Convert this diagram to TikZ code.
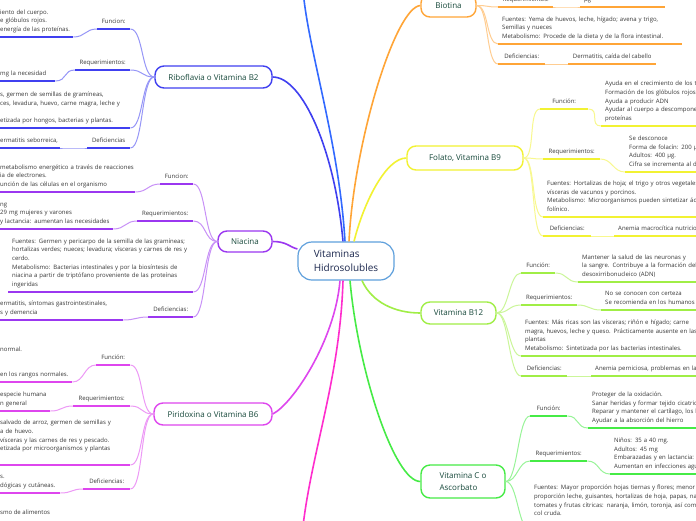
\documentclass[tikz,border=0pt]{standalone}
\usepackage{fontspec}
\setmainfont{Open Sans}
\usepackage{tikz}
\usepackage{xcolor}
\usetikzlibrary{calc}
\definecolor{ink}{RGB}{55,55,55}
\definecolor{topicink}{RGB}{22,72,58}
\definecolor{rootink}{RGB}{28,40,78}
\definecolor{rootc}{RGB}{95,160,220}
\definecolor{ribc}{RGB}{64,64,240}
\definecolor{topc}{RGB}{50,105,255}
\definecolor{niac}{RGB}{155,55,240}
\definecolor{pirc}{RGB}{222,70,238}
\definecolor{magc}{RGB}{255,45,205}
\definecolor{bioc}{RGB}{255,165,55}
\definecolor{folc}{RGB}{242,242,50}
\definecolor{b12c}{RGB}{160,238,70}
\definecolor{vicc}{RGB}{70,235,70}
\tikzset{
  root/.style={draw=rootc,line width=1.2pt,rounded corners=14pt,fill=white,text=rootink,font=\fontsize{10}{14}\selectfont,align=left,minimum width=96pt,minimum height=38pt},
  topic/.style={draw=#1,line width=1.4pt,rounded corners=9pt,fill=white,text=topicink,font=\fontsize{8}{12}\selectfont,align=left,minimum height=22pt},
  stem/.style={line width=1.6pt,draw=#1},
  leaf/.style={anchor=south west,align=left,text=ink,font=\fontsize{6}{8.6}\selectfont,inner xsep=4pt,inner ysep=3pt,execute at end node=\strut},
  cut/.style={leaf,inner xsep=0pt},
  uline/.style={line width=2.4pt,draw=#1},
  link/.style={line width=1pt,draw=#1!55}
}
\begin{document}
\begin{tikzpicture}[x=1pt,y=-1pt]
  \fill[white,use as bounding box] (0,0) rectangle (696,520);
  \clip (0,0) rectangle (696,520);

  \node[root] (root) at (346,261) {Vitaminas\\Hidrosolubles};
  \node[topic=ribc,minimum width=117pt] (rib) at (213.5,77) {Riboflavia o Vitamina B2};
  \node[topic=niac,minimum width=54pt,minimum height=21pt] (nia) at (245,241.5) {Niacina};
  \node[topic=pirc,minimum width=118pt] (pir) at (213,414) {Piridoxina o Vitamina B6};
  \node[topic=bioc,minimum width=55pt,minimum height=23pt] (bio) at (448.5,5.5) {Biotina};
  \node[topic=folc,minimum width=116pt,minimum height=24pt] (fol) at (465,158) {Folato, Vitamina B9};
  \node[topic=b12c,minimum width=75pt] (b12) at (458.5,313) {Vitamina B12};
  \node[topic=vicc,minimum width=84pt,minimum height=33pt] (vic) at (463,481.5) {Vitamina C o\\Ascorbato};
  \coordinate (topend) at (303,-10);
  \coordinate (botend) at (302,535);

  \draw[stem=ribc] ([xshift=-3pt]root.north) .. controls +(-8,-90) and +(30,0) .. (rib.east);
  \draw[stem=topc] ([xshift=-1pt]root.north) .. controls +(-6,-100) and +(5,60) .. (topend);
  \draw[stem=bioc] ([xshift=3pt]root.north) .. controls +(5,-100) and +(-25,2) .. (bio.west);
  \draw[stem=folc] ([xshift=8pt]root.north) .. controls +(10,-40) and +(-20,0) .. (fol.west);
  \draw[stem=niac] (nia.east) .. controls +(14,0) and +(-8,-2) .. ([yshift=12pt]root.west);
  \draw[stem=b12c] ([xshift=16pt]root.south) .. controls +(10,22) and +(-25,0) .. (b12.west);
  \draw[stem=pirc] ([xshift=-6pt]root.south) .. controls +(-5,60) and +(20,-10) .. (pir.east);
  \draw[stem=magc] ([xshift=-3pt]root.south) .. controls +(-3,100) and +(8,-80) .. (botend);
  \draw[stem=vicc] ([xshift=4pt]root.south) .. controls +(8,90) and +(-26,0) .. (vic.west);

  \node[leaf,minimum width=33pt] (ribfun) at (97,29) {Funcion:};
  \node[cut,text width=73pt] (ribfunt) at (0,37) {
    iento del cuerpo.\\e glóbulos rojos.\\energía de las proteínas.
  };
  \node[leaf,minimum width=55pt] (ribreq) at (75,70) {Requerimientos:};
  \node[cut,text width=55pt] (ribreqt) at (0,81) {mg la necesidad};
  \node[cut,text width=130pt] (ribsrc) at (0,128) {
    s, germen de semillas de gramíneas,\\ces, levadura, huevo, carne magra, leche y\\[8.6pt]etizada por hongos, bacterias y plantas.
  };
  \node[leaf,minimum width=43pt] (ribdef) at (87,148) {Deficiencias};
  \node[cut,text width=60pt] (ribdeft) at (0,148) {ermatitis seborreica,};

  \node[leaf,minimum width=33pt] (niafun) at (160,184) {Funcion:};
  \node[cut,text width=135pt] (niafunt) at (0,192) {
    metabolismo energético a través de reacciones\\ia de electrones.\\unción de las células en el organismo
  };
  \node[leaf,minimum width=56pt] (niareq) at (137,221) {Requerimientos:};
  \node[cut,text width=113pt] (niareqt) at (0,229) {
    ng\\ 29 mg mujeres y varones\\y lactancia: aumentan las necesidades
  };
  \node[leaf,text width=177pt] (niasrc) at (8,292) {
    Fuentes: Germen y pericarpo de la semilla de las gramíneas;\\hortalizas verdes; nueces; levadura; vísceras y carnes de res y\\cerdo.\\Metabolismo: Bacterias intestinales y por la biosíntesis de\\niacina a partir de triptófano proveniente de las proteínas\\ingeridas
  };
  \node[leaf,minimum width=45pt] (niadef) at (148,317) {Deficiencias:};
  \node[cut,text width=123pt] (niadeft) at (0,320) {
    ermatitis, síntomas gastrointestinales,\\s y demencia
  };

  \node[leaf,minimum width=34pt] (pirfun) at (96,365) {Función:};
  \node[cut,text width=72pt] (pirfunt) at (0,382) {
    normal.\\[16.4pt]en los rangos normales.
  };
  \node[leaf,minimum width=57pt] (pirreq) at (73,406) {Requerimientos:};
  \node[cut,text width=50pt] (pirreqt) at (0,411) {
    especie humana\\n general
  };
  \node[cut,text width=130pt] (pirsrc) at (0,465) {
    salvado de arroz, germen de semillas y\\a de huevo.\\vísceras y las carnes de res y pescado.\\etizada por microorganismos y plantas\\\mbox{}
  };
  \node[leaf,minimum width=47pt] (pirdef) at (83,489) {Deficiencias:};
  \node[cut,text width=60pt] (pirdeft) at (0,493) {
    s.\\dógicas y cutáneas.
  };
  \node[cut,anchor=base west] (pirmore) at (0,514) {smo de alimentos};

  \node[leaf,minimum width=55pt] (bioreq) at (498,7) {Requerimientos:};
  \node[leaf,text width=77pt] (bioreqt) at (580,7) {Rango normal: 100 a 300 µg};
  \node[leaf,text width=176pt] (biosrc) at (498,44) {
    Fuentes:  Yema de huevos, leche, hígado; avena y trigo,\\Semillas y nueces\\Metabolismo: Procede de la dieta y de la flora intestinal.
  };
  \node[leaf,minimum width=47pt] (biodef) at (498,64) {Deficiencias:};
  \node[leaf,minimum width=88pt] (biodeft) at (568,64) {Dermatitis, caída del cabello};

  \node[leaf,minimum width=48pt] (folfun) at (540,109) {Función:};
  \node[leaf,text width=130pt] (folfunt) at (601,126) {
    Ayuda en el crecimiento de los t\\Formación de los glóbulos rojos\\Ayuda a producir ADN\\Ayudar al cuerpo a descomponer\\proteínas
  };
  \node[leaf,minimum width=57pt] (folreq) at (543,159) {Requerimientos:};
  \node[leaf,text width=120pt] (folreqt) at (625,172) {
    Se desconoce\\Forma de folacín: 200 µ\\Adultos: 400 µg.\\Cifra se incrementa al d
  };
  \node[leaf,text width=200pt] (folsrc) at (543,217) {
    Fuentes: Hortalizas de hoja; el trigo y otros vegetales\\vísceras de vacunos y porcinos.\\Metabolismo: Microorganismos pueden sintetizar ác\\folínico.
  };
  \node[leaf,minimum width=48pt] (foldef) at (543,236) {Deficiencias:};
  \node[leaf,text width=120pt] (foldeft) at (614,236) {Anemia macrocítica nutricio};

  \node[leaf,minimum width=34pt] (b12fun) at (521,273) {Función:};
  \node[leaf,text width=150pt] (b12funt) at (578,282) {
    Mantener la salud de las neuronas y\\la sangre. Contribuye a la formación del\\desoxirribonucleico (ADN)
  };
  \node[leaf,minimum width=56pt] (b12req) at (521,305) {Requerimientos:};
  \node[leaf,text width=120pt] (b12reqt) at (601,310) {
    No se conocen con certeza\\Se recomienda en los humanos
  };
  \node[leaf,text width=200pt] (b12src) at (521,356) {
    Fuentes: Más ricas son las vísceras; riñón e hígado; carne\\magra, huevos, leche y queso. Prácticamente ausente en las\\plantas\\Metabolismo: Sintetizada por las bacterias intestinales.
  };
  \node[leaf,minimum width=46pt] (b12def) at (521,376) {Deficiencias:};
  \node[leaf,text width=130pt] (b12deft) at (591,376) {Anemia perniciosa, problemas en la};

  \node[leaf,minimum width=37pt] (vicfun) at (530,416) {Función:};
  \node[leaf,text width=130pt] (vicfunt) at (588,428) {
    Proteger de la oxidación.\\Sanar heridas y formar tejido cicatric\\Reparar y mantener el cartílago, los h\\Ayudar a la absorción del hierro
  };
  \node[leaf,minimum width=57pt] (vicreq) at (530,461) {Requerimientos:};
  \node[leaf,text width=120pt] (vicreqt) at (610,474) {
    Niños: 35 a 40 mg.\\Adultos: 45 mg\\Embarazadas y en lactancia:\\Aumentan en infecciones agu
  };
  \node[leaf,text width=200pt] (vicsrc) at (530,530) {
    Fuentes:  Mayor proporción hojas tiernas y flores;  menor\\proporción leche, guisantes, hortalizas de hoja, papas, nal\\tomates y frutas cítricas: naranja, limón, toronja, así como\\col cruda.\\\mbox{}
  };

  \draw[link=ribc] (rib.west) .. controls +(-13,0) and +(13,0) .. (ribfun.south east);
  \draw[link=ribc] (rib.west) .. controls +(-13,0) and +(13,0) .. (ribreq.south east);
  \draw[link=ribc] (rib.west) .. controls +(-13,0) and +(13,0) .. (ribsrc.south east);
  \draw[link=ribc] (rib.west) .. controls +(-13,0) and +(13,0) .. (ribdef.south east);
  \draw[link=ribc] (ribfun.south west) .. controls +(-12,0) and +(12,0) .. (ribfunt.south east);
  \draw[link=ribc] (ribreq.south west) .. controls +(-12,0) and +(12,0) .. (ribreqt.south east);
  \draw[link=ribc] (ribdef.south west) .. controls +(-12,0) and +(12,0) .. (ribdeft.south east);
  \draw[uline=ribc] (ribfun.south west) -- (ribfun.south east);
  \draw[uline=ribc] (ribfunt.south west) -- (ribfunt.south east);
  \draw[uline=ribc] (ribreq.south west) -- (ribreq.south east);
  \draw[uline=ribc] (ribreqt.south west) -- (ribreqt.south east);
  \draw[uline=ribc] (ribsrc.south west) -- (ribsrc.south east);
  \draw[uline=ribc] (ribdef.south west) -- (ribdef.south east);
  \draw[uline=ribc] (ribdeft.south west) -- (ribdeft.south east);

  \draw[link=niac] (nia.west) .. controls +(-13,0) and +(13,0) .. (niafun.south east);
  \draw[link=niac] (nia.west) .. controls +(-13,0) and +(13,0) .. (niareq.south east);
  \draw[link=niac] (nia.west) .. controls +(-13,0) and +(13,0) .. (niasrc.south east);
  \draw[link=niac] (nia.west) .. controls +(-13,0) and +(13,0) .. (niadef.south east);
  \draw[link=niac] (niafun.south west) .. controls +(-12,0) and +(12,0) .. (niafunt.south east);
  \draw[link=niac] (niareq.south west) .. controls +(-12,0) and +(12,0) .. (niareqt.south east);
  \draw[link=niac] (niadef.south west) .. controls +(-12,0) and +(12,0) .. (niadeft.south east);
  \draw[uline=niac] (niafun.south west) -- (niafun.south east);
  \draw[uline=niac] (niafunt.south west) -- (niafunt.south east);
  \draw[uline=niac] (niareq.south west) -- (niareq.south east);
  \draw[uline=niac] (niareqt.south west) -- (niareqt.south east);
  \draw[uline=niac] (niasrc.south west) -- (niasrc.south east);
  \draw[uline=niac] (niadef.south west) -- (niadef.south east);
  \draw[uline=niac] (niadeft.south west) -- (niadeft.south east);

  \draw[link=pirc] (pir.west) .. controls +(-13,0) and +(13,0) .. (pirfun.south east);
  \draw[link=pirc] (pir.west) .. controls +(-13,0) and +(13,0) .. (pirreq.south east);
  \draw[link=pirc] (pir.west) .. controls +(-13,0) and +(13,0) .. (pirsrc.south east);
  \draw[link=pirc] (pir.west) .. controls +(-13,0) and +(13,0) .. (pirdef.south east);
  \draw[link=pirc] (pirfun.south west) .. controls +(-12,0) and +(12,0) .. (pirfunt.south east);
  \draw[link=pirc] (pirreq.south west) .. controls +(-12,0) and +(12,0) .. (pirreqt.south east);
  \draw[link=pirc] (pirdef.south west) .. controls +(-12,0) and +(12,0) .. (pirdeft.south east);
  \draw[uline=pirc] (pirfun.south west) -- (pirfun.south east);
  \draw[uline=pirc] (pirfunt.south west) -- (pirfunt.south east);
  \draw[uline=pirc] (pirreq.south west) -- (pirreq.south east);
  \draw[uline=pirc] (pirreqt.south west) -- (pirreqt.south east);
  \draw[uline=pirc] (pirsrc.south west) -- (pirsrc.south east);
  \draw[uline=pirc] (pirdef.south west) -- (pirdef.south east);
  \draw[uline=pirc] (pirdeft.south west) -- (pirdeft.south east);

  \draw[link=bioc] (bio.east) .. controls +(12,0) and +(-12,0) .. (bioreq.south west);
  \draw[link=bioc] (bio.east) .. controls +(12,0) and +(-12,0) .. (biosrc.south west);
  \draw[link=bioc] (bio.east) .. controls +(12,0) and +(-12,0) .. (biodef.south west);
  \draw[link=bioc] (bioreq.south east) .. controls +(12,0) and +(-12,0) .. (bioreqt.south west);
  \draw[link=bioc] (biodef.south east) .. controls +(12,0) and +(-12,0) .. (biodeft.south west);
  \draw[uline=bioc] (bioreq.south west) -- (bioreq.south east);
  \draw[uline=bioc] (bioreqt.south west) -- (bioreqt.south east);
  \draw[uline=bioc] (biosrc.south west) -- (biosrc.south east);
  \draw[uline=bioc] (biodef.south west) -- (biodef.south east);
  \draw[uline=bioc] (biodeft.south west) -- (biodeft.south east);

  \draw[link=folc] (fol.east) .. controls +(12,0) and +(-12,0) .. (folfun.south west);
  \draw[link=folc] (fol.east) .. controls +(12,0) and +(-12,0) .. (folreq.south west);
  \draw[link=folc] (fol.east) .. controls +(12,0) and +(-12,0) .. (folsrc.south west);
  \draw[link=folc] (fol.east) .. controls +(12,0) and +(-12,0) .. (foldef.south west);
  \draw[link=folc] (folfun.south east) .. controls +(12,0) and +(-12,0) .. (folfunt.south west);
  \draw[link=folc] (folreq.south east) .. controls +(12,0) and +(-12,0) .. (folreqt.south west);
  \draw[link=folc] (foldef.south east) .. controls +(12,0) and +(-12,0) .. (foldeft.south west);
  \draw[uline=folc] (folfun.south west) -- (folfun.south east);
  \draw[uline=folc] (folfunt.south west) -- (folfunt.south east);
  \draw[uline=folc] (folreq.south west) -- (folreq.south east);
  \draw[uline=folc] (folreqt.south west) -- (folreqt.south east);
  \draw[uline=folc] (folsrc.south west) -- (folsrc.south east);
  \draw[uline=folc] (foldef.south west) -- (foldef.south east);
  \draw[uline=folc] (foldeft.south west) -- (foldeft.south east);

  \draw[link=b12c] (b12.east) .. controls +(12,0) and +(-12,0) .. (b12fun.south west);
  \draw[link=b12c] (b12.east) .. controls +(12,0) and +(-12,0) .. (b12req.south west);
  \draw[link=b12c] (b12.east) .. controls +(12,0) and +(-12,0) .. (b12src.south west);
  \draw[link=b12c] (b12.east) .. controls +(12,0) and +(-12,0) .. (b12def.south west);
  \draw[link=b12c] (b12fun.south east) .. controls +(12,0) and +(-12,0) .. (b12funt.south west);
  \draw[link=b12c] (b12req.south east) .. controls +(12,0) and +(-12,0) .. (b12reqt.south west);
  \draw[link=b12c] (b12def.south east) .. controls +(12,0) and +(-12,0) .. (b12deft.south west);
  \draw[uline=b12c] (b12fun.south west) -- (b12fun.south east);
  \draw[uline=b12c] (b12funt.south west) -- (b12funt.south east);
  \draw[uline=b12c] (b12req.south west) -- (b12req.south east);
  \draw[uline=b12c] (b12reqt.south west) -- (b12reqt.south east);
  \draw[uline=b12c] (b12src.south west) -- (b12src.south east);
  \draw[uline=b12c] (b12def.south west) -- (b12def.south east);
  \draw[uline=b12c] (b12deft.south west) -- (b12deft.south east);

  \draw[link=vicc] (vic.east) .. controls +(12,0) and +(-12,0) .. (vicfun.south west);
  \draw[link=vicc] (vic.east) .. controls +(12,0) and +(-12,0) .. (vicreq.south west);
  \draw[link=vicc] (vic.east) .. controls +(12,0) and +(-12,0) .. (vicsrc.south west);
  \draw[link=vicc] (vicfun.south east) .. controls +(12,0) and +(-12,0) .. (vicfunt.south west);
  \draw[link=vicc] (vicreq.south east) .. controls +(12,0) and +(-12,0) .. (vicreqt.south west);
  \draw[uline=vicc] (vicfun.south west) -- (vicfun.south east);
  \draw[uline=vicc] (vicfunt.south west) -- (vicfunt.south east);
  \draw[uline=vicc] (vicreq.south west) -- (vicreq.south east);
  \draw[uline=vicc] (vicreqt.south west) -- (vicreqt.south east);
  \draw[uline=vicc] (vicsrc.south west) -- (vicsrc.south east);
\end{tikzpicture}
\end{document}
